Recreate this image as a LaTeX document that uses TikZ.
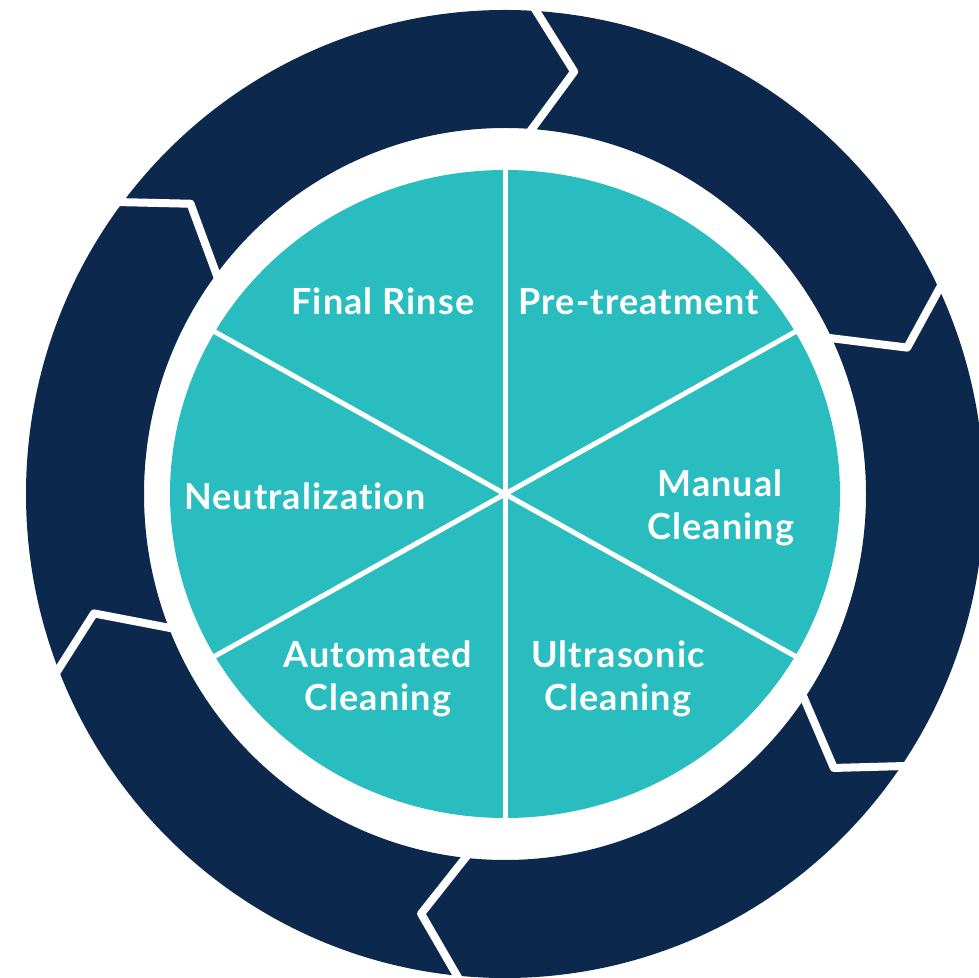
\documentclass[tikz,border=0pt]{standalone}
\usepackage{fontspec}
\setmainfont{Lato}[LetterSpace=3, Ligatures=NoCommon]
\definecolor{ringnavy}{RGB}{12,40,76}
\definecolor{pieteal}{RGB}{41,189,191}
\begin{document}
\begin{tikzpicture}[x=1pt,y=1pt,
  lbl/.style={text=white, font=\fontsize{36}{40}\selectfont\bfseries, inner sep=0pt, anchor=base},
  brk/.style={white, line width=8pt, line join=round},
  sep/.style={white, line width=5pt}]
\useasboundingbox (0,0) rectangle (979,977);
\coordinate (c) at (505,483);
% outer ring of arrows
\fill[ringnavy, even odd rule] (c) ellipse [x radius=479, y radius=484] (c) ellipse [x radius=361, y radius=366];
\foreach \a in {88,27.3,-32.5,-94,-156.5,144.6}{
  \draw[brk, shift={(c)}] (\a:505) -- (\a-7.3:428) -- (\a:345);
}
% pie
\fill[pieteal] (c) ellipse [x radius=335, y radius=324];
\foreach \a in {30,90,...,330}{
  \draw[sep, shift={(c)}] (0,0) -- (\a:345 and 334);
}
% labels
\node[lbl] (fr) at (383,662) {Final Rinse};
\node[lbl] (pt) at (639,662) {Pre-treatment};
\node[lbl] (mc1) at (720,480) {Manual};
\node[lbl] (mc2) at (721,437) {Cleaning};
\node[lbl] (ne) at (305,467) {Neutralization};
\node[lbl] (ac1) at (378,309) {Automated};
\node[lbl] (ac2) at (378,266) {Cleaning};
\node[lbl] (uc1) at (618,309) {Ultrasonic};
\node[lbl] (uc2) at (618,266) {Cleaning};
\end{tikzpicture}
\end{document}
